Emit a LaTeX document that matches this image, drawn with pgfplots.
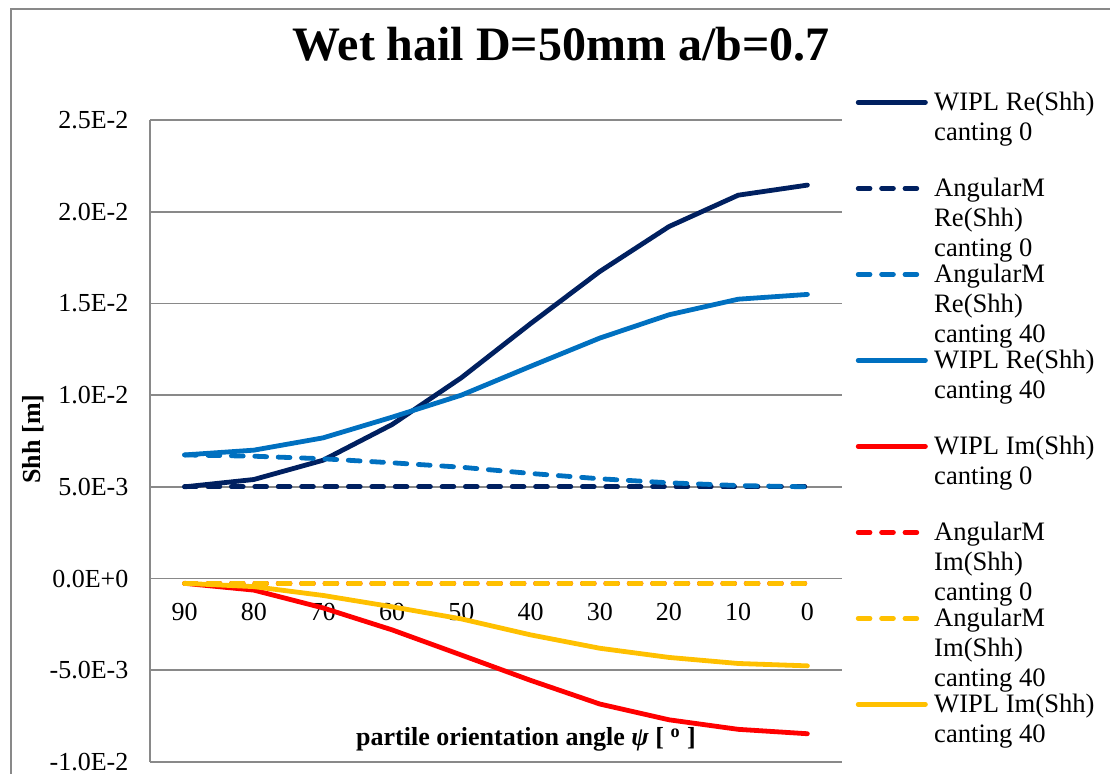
\documentclass[border=0pt]{standalone}
\usepackage{fontspec}
\setmainfont{Liberation Serif}
\usepackage{pgfplots}
\usepackage{pgfplotstable}
\pgfplotsset{compat=1.18}
\definecolor{cNavy}{HTML}{002060}
\definecolor{cBlue}{HTML}{0070C0}
\definecolor{cRed}{HTML}{FF0000}
\definecolor{cYel}{HTML}{FFC000}
\definecolor{cGrid}{HTML}{898989}
\newcommand{\lent}[1]{\raisebox{0pt}[10pt][0pt]{\begin{tabular}[t]{@{}l@{}}#1\end{tabular}}}
\pgfplotsset{
  mylegimg/.style={legend image code/.code={\draw[#1] (0pt,4pt) -- (33.6pt,4pt);}},
  dsh/.style={dash pattern=on 5.9pt off 5.8pt},
}
\pgfplotstableread{
x s1 s2 s3 s4 s5 s6 s7 s8
0 5.00e-3 5.0e-3 6.74e-3 6.74e-3 -2.6e-4 -2.6e-4 -2.6e-4 -2.6e-4
1 5.40e-3 5.0e-3 6.67e-3 7.00e-3 -6.3e-4 -2.6e-4 -2.6e-4 -4.4e-4
2 6.45e-3 5.0e-3 6.53e-3 7.67e-3 -1.60e-3 -2.6e-4 -2.6e-4 -9.2e-4
3 8.40e-3 5.0e-3 6.31e-3 8.80e-3 -2.80e-3 -2.6e-4 -2.6e-4 -1.54e-3
4 1.095e-2 5.0e-3 6.07e-3 1.000e-2 -4.17e-3 -2.6e-4 -2.6e-4 -2.20e-3
5 1.39e-2 5.0e-3 5.73e-3 1.157e-2 -5.55e-3 -2.6e-4 -2.6e-4 -3.07e-3
6 1.674e-2 5.0e-3 5.44e-3 1.311e-2 -6.84e-3 -2.6e-4 -2.6e-4 -3.80e-3
7 1.919e-2 5.0e-3 5.22e-3 1.438e-2 -7.70e-3 -2.6e-4 -2.6e-4 -4.30e-3
8 2.09e-2 5.0e-3 5.07e-3 1.523e-2 -8.22e-3 -2.6e-4 -2.6e-4 -4.63e-3
9 2.145e-2 5.0e-3 5.00e-3 1.549e-2 -8.46e-3 -2.6e-4 -2.6e-4 -4.76e-3
}\datatable
\begin{document}
\begin{tikzpicture}
\useasboundingbox (0,0) rectangle (555pt,387pt);
\draw[cGrid, line width=0.9pt] (5.5pt,-2pt) -- (5.5pt,382.5pt) -- (558pt,382.5pt);
\begin{axis}[
  at={(75pt,6pt)}, anchor=south west,
  scale only axis, width=346pt, height=321pt,
  xmin=-0.5, xmax=9.5, ymin=-0.01, ymax=0.025,
  axis x line=middle, axis y line=left,
  axis line style={-, draw=cGrid, line width=0.9pt},
  xtick={0,...,9}, xticklabels={90,80,70,60,50,40,30,20,10,0},
  ytick={-0.01,-0.005,0,0.005,0.01,0.015,0.02,0.025},
  yticklabels={-1.0E-2,-5.0E-3,0.0E+0,5.0E-3,1.0E-2,1.5E-2,2.0E-2,2.5E-2},
  scaled y ticks=false,
  major tick length=0pt,
  ymajorgrids, major grid style={cGrid, line width=0.9pt},
  tick label style={font=\fontsize{13}{15}\selectfont},
  xticklabel style={anchor=north, yshift=-9pt},
  yticklabel style={anchor=east, xshift=-7.3pt},
  title={Wet hail D=50mm a/b=0.7},
  title style={at={(axis description cs:0.594,1.0732)}, anchor=base, font=\bfseries\fontsize{24}{28}\selectfont},
  xlabel={partile orientation angle \textit{ψ} [ \textsuperscript{o} ]},
  xlabel style={at={(axis description cs:0.5434,0.0249)}, anchor=base, font=\bfseries\fontsize{13}{15}\selectfont},
  ylabel={Shh [m]},
  ylabel style={at={(axis description cs:-0.169,0.503)}, anchor=center, font=\bfseries\fontsize{13}{15}\selectfont},
  legend style={draw=none, fill=none, at={(axis description cs:1.0194,1.0467)}, anchor=north west,
    font=\fontsize{13.3}{15}\selectfont, row sep=31.5pt, column sep=3.2pt, inner sep=0pt,
    nodes={inner sep=0pt}, cells={anchor=base west}},
  mylegimg,
  every axis plot/.append style={line width=2.4pt, line cap=round, line join=round},
]
\addplot[cNavy] table[x=x,y=s1]{\datatable};
\addlegendentry{\lent{WIPL Re(Shh)\\canting 0}}
\addplot[cNavy,dsh] table[x=x,y=s2]{\datatable};
\addlegendentry{\lent{AngularM\\Re(Shh)\\canting 0}}
\addplot[cBlue,dsh] table[x=x,y=s3]{\datatable};
\addlegendentry{\lent{AngularM\\Re(Shh)\\canting 40}}
\addplot[cBlue] table[x=x,y=s4]{\datatable};
\addlegendentry{\lent{WIPL Re(Shh)\\canting 40}}
\addplot[cRed] table[x=x,y=s5]{\datatable};
\addlegendentry{\lent{WIPL Im(Shh)\\canting 0}}
\addplot[cRed,dsh] table[x=x,y=s6]{\datatable};
\addlegendentry{\lent{AngularM\\Im(Shh)\\canting 0}}
\addplot[cYel,dsh] table[x=x,y=s7]{\datatable};
\addlegendentry{\lent{AngularM\\Im(Shh)\\canting 40}}
\addplot[cYel] table[x=x,y=s8]{\datatable};
\addlegendentry{\lent{WIPL Im(Shh)\\canting 40}}
\end{axis}
\end{tikzpicture}
\end{document}
